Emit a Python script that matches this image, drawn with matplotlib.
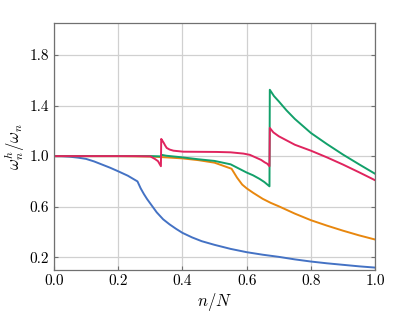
import numpy as np
import matplotlib
matplotlib.use('Agg')
import matplotlib.pyplot as plt
from matplotlib.ticker import FormatStrFormatter

plt.rcParams['font.family'] = 'serif'
plt.rcParams['font.serif'] = ['cmr10']
plt.rcParams['mathtext.fontset'] = 'cm'
plt.rcParams['axes.formatter.use_mathtext'] = True

blue_x = [0, 0.025, 0.05, 0.075, 0.1, 0.125, 0.15, 0.175, 0.2, 0.23, 0.26, 0.27, 0.28, 0.29, 0.3, 0.32, 0.34,
          0.36, 0.38, 0.4, 0.43, 0.46, 0.5, 0.55, 0.6, 0.65, 0.7, 0.75, 0.8, 0.85, 0.9, 0.95, 1.0]
blue_y = [1.0, 0.999, 0.995, 0.988, 0.978, 0.958, 0.933, 0.908, 0.88, 0.845, 0.80, 0.745, 0.70, 0.66, 0.625,
          0.555, 0.50, 0.46, 0.425, 0.393, 0.357, 0.327, 0.298, 0.266, 0.24, 0.22, 0.203, 0.183, 0.166, 0.152,
          0.14, 0.128, 0.118]

orange_x = [0, 0.2, 0.3, 0.35, 0.4, 0.45, 0.5, 0.553, 0.57, 0.586, 0.6, 0.62, 0.65, 0.675, 0.7, 0.75, 0.8, 0.85, 0.9, 0.95, 1.0]
orange_y = [1.0, 1.0, 0.997, 0.99, 0.982, 0.968, 0.948, 0.90, 0.83, 0.775, 0.745, 0.71, 0.662, 0.63, 0.603, 0.545,
            0.493, 0.45, 0.41, 0.373, 0.34]

red_x = [0, 0.25, 0.3, 0.314, 0.324, 0.333, 0.334, 0.338, 0.342, 0.346, 0.351, 0.36, 0.372, 0.403, 0.507, 0.55,
         0.59, 0.61, 0.631, 0.645, 0.656, 0.664, 0.671, 0.672, 0.683, 0.7, 0.75, 0.8, 0.85, 0.9, 0.95, 1.0]
red_y = [1.0, 1.0, 0.998, 0.978, 0.96, 0.92, 1.136, 1.12, 1.104, 1.085, 1.065, 1.052, 1.043, 1.035, 1.033, 1.03,
         1.02, 1.01, 0.986, 0.97, 0.951, 0.94, 0.92, 1.223, 1.188, 1.157, 1.09, 1.043, 0.99, 0.933, 0.872, 0.809]

green_x = [0, 0.3, 0.333, 0.335, 0.35, 0.4, 0.45, 0.5, 0.55, 0.6, 0.62, 0.64, 0.655, 0.671, 0.672, 0.685, 0.7,
           0.724, 0.75, 0.8, 0.85, 0.9, 0.95, 1.0]
green_y = [1.0, 1.0, 0.998, 1.01, 1.003, 0.99, 0.975, 0.962, 0.935, 0.87, 0.848, 0.82, 0.795, 0.761, 1.525, 1.475,
           1.433, 1.362, 1.294, 1.183, 1.095, 1.012, 0.935, 0.86]

fig = plt.figure(figsize=(4.15, 3.12), dpi=100)
ax = fig.add_axes([0.130, 0.135, 0.774, 0.790])

ax.plot(blue_x, blue_y, color='#4472c4', lw=1.4)
ax.plot(orange_x, orange_y, color='#e8870e', lw=1.4)
ax.plot(green_x, green_y, color='#12a06a', lw=1.4)
ax.plot(red_x, red_y, color='#e0245e', lw=1.4)

ax.set_xlim(0, 1)
ax.set_ylim(0.1, 2.05)
ax.set_xticks([0, 0.2, 0.4, 0.6, 0.8, 1.0])
ax.set_yticks([0.2, 0.6, 1.0, 1.4, 1.8])
ax.xaxis.set_major_formatter(FormatStrFormatter('%.1f'))
ax.yaxis.set_major_formatter(FormatStrFormatter('%.1f'))
ax.tick_params(direction='in', right=True, length=3, labelsize=11, color='#707070')
ax.grid(True, color='#d0d0d0', lw=0.9)
ax.set_axisbelow(True)
for s in ax.spines.values():
    s.set_color('#707070')
    s.set_linewidth(0.9)

ax.set_xlabel(r'$n/N$', fontsize=12, labelpad=2)
ax.set_ylabel(r'$\omega_n^h/\omega_n$', fontsize=12, labelpad=2)

fig.savefig('out.png', dpi=100)
